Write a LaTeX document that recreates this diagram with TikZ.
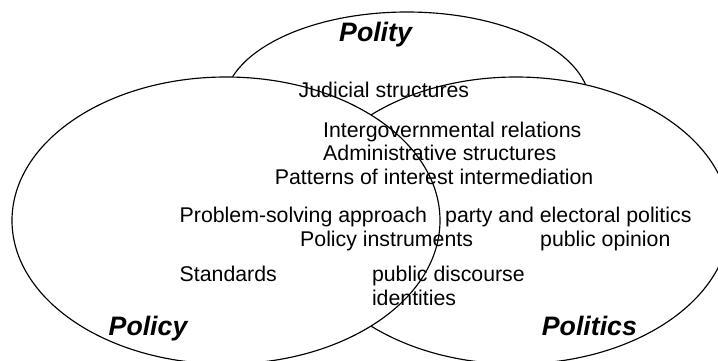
\documentclass[tikz,border=0pt]{standalone}
\usepackage{fontspec}
\setmainfont{Liberation Sans}
\begin{document}
\begin{tikzpicture}[x=1pt,y=-1pt,
  ring/.style={draw=black,line width=1.15pt,fill=white},
  lbl/.style={anchor=base west,inner sep=0pt,font=\fontsize{21.3}{24}\selectfont},
  ttl/.style={anchor=base west,inner sep=0pt,font=\fontsize{26.7}{30}\selectfont\bfseries\itshape}]
\useasboundingbox (0,0) rectangle (718,361);
\fill[white] (0,0) rectangle (718,361);
\begin{scope}
\clip (0,0) rectangle (718,361);
\draw[ring] (407,105) ellipse [x radius=183, y radius=93];
\draw[ring] (516,220.5) ellipse [x radius=214, y radius=143.5];
\draw[ring] (226,220.5) ellipse [x radius=214, y radius=143.5];
\end{scope}
\node[ttl] (polity) at (339,41.7) {Polity};
\node[ttl] (policy) at (108.5,335) {Policy};
\node[ttl] (politics) at (541.7,335) {Politics};
\node[lbl] (jud) at (298.5,97) {Judicial structures};
\node[lbl] (igr) at (323,137) {Intergovernmental relations};
\node[lbl] (adm) at (323,160.7) {Administrative structures};
\node[lbl] (pat) at (274.7,184.2) {Patterns of interest intermediation};
\node[lbl] (psa) at (179.5,222) {Problem-solving approach};
\node[lbl] (pep) at (445,222) {party and electoral politics};
\node[lbl] (pin) at (300,246.5) {Policy instruments};
\node[lbl] (pop) at (540,246.5) {public opinion};
\node[lbl] (std) at (179.5,281.7) {Standards};
\node[lbl] (pdc) at (371.8,281.7) {public discourse};
\node[lbl] (idt) at (371.8,305) {identities};
\end{tikzpicture}
\end{document}
